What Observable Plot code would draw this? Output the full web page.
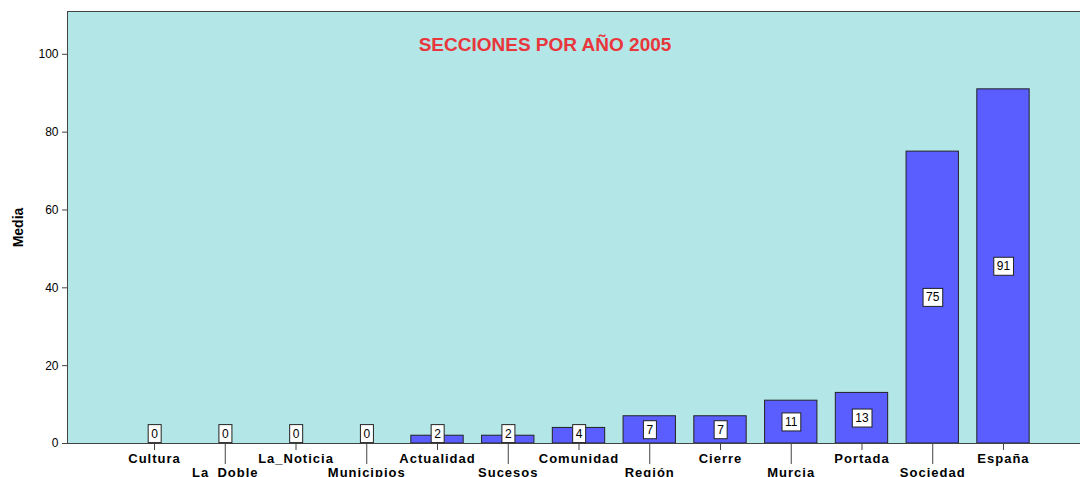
<!DOCTYPE html>
<html>
<head>
<meta charset="utf-8">
<script src="https://cdn.jsdelivr.net/npm/d3@7"></script>
<script src="https://cdn.jsdelivr.net/npm/@observablehq/plot@0.6"></script>
<style>
  html, body { margin: 0; padding: 0; overflow: hidden; background: #fff; }
  #chart { position: relative; width: 1080px; height: 477px; overflow: hidden; }
  #chart svg { max-width: none !important; }
  g[aria-label="x-axis tick label"] text { letter-spacing: 1px; }
</style>
</head>
<body>
<div id="chart"></div>
<script>
const categories = ["Cultura","La_Doble","La_Noticia","Municipios","Actualidad","Sucesos","Comunidad","Región","Cierre","Murcia","Portada","Sociedad","España"];
const values = [0,0,0,0,2,2,4,7,7,11,13,75,91];
const yTicks = [0,20,40,60,80,100];
const title = "SECCIONES POR AÑO 2005";
const yLabel = "Media";

const data = categories.map((c, i) => ({cat: c, v: values[i]}));
const rowA = categories.filter((c, i) => i % 2 === 0);
const rowB = categories.filter((c, i) => i % 2 === 1);

const chart = Plot.plot({
  width: 1090,
  height: 477,
  marginLeft: 67,
  marginRight: 0,
  marginTop: 11,
  marginBottom: 34,
  style: {fontFamily: "'Liberation Sans', Arial, sans-serif", background: "white", color: "#000", maxWidth: "none"},
  x: {domain: categories, paddingInner: 0.26, paddingOuter: 0.86, round: false, axis: null},
  y: {domain: [0, 111], axis: null},
  marks: [
    Plot.frame({fill: "#b3e6e6", stroke: "#444"}),
    Plot.barY(data, {x: "cat", y: "v", fill: "#5a5eff", stroke: "#222", strokeWidth: 1}),
    Plot.axisY(yTicks, {tickSize: 5, tickPadding: 4, fontSize: 12, stroke: "#444", label: null}),
    Plot.axisX(rowA, {tickSize: 7, tickPadding: 3, fontSize: 13, fontWeight: "bold", stroke: "#444", label: null}),
    Plot.axisX(rowB, {tickSize: 21, tickPadding: 3, fontSize: 13, fontWeight: "bold", stroke: "#444", label: null}),
    Plot.ruleY([0], {stroke: "#444"}),
    Plot.text(data, {x: "cat", y: d => Math.max(d.v / 2, 2.5), text: d => String(d.v), fontSize: 12, fill: "#000", className: "vlabel"}),
    Plot.text([title], {frameAnchor: "top", dx: -34, dy: 33, lineAnchor: "middle", fill: "#e8363c", fontSize: 19, fontWeight: "bold"}),
    Plot.text([yLabel], {frameAnchor: "left", textAnchor: "middle", rotate: -90, dx: -49, fontSize: 14, fontWeight: "bold", fill: "#000"})
  ]
});

document.getElementById("chart").appendChild(chart);

// white boxes behind value labels
let labelGroups = chart.querySelectorAll("g.vlabel");
if (!labelGroups.length) labelGroups = [chart.querySelectorAll('g[aria-label="text"]')[0]];
labelGroups.forEach(g => {
  if (!g) return;
  g.querySelectorAll("text").forEach(t => {
    const b = t.getBBox();
    const padX = 3, padY = 2;
    const rect = document.createElementNS("http://www.w3.org/2000/svg", "rect");
    rect.setAttribute("x", b.x - padX);
    rect.setAttribute("y", b.y - padY);
    rect.setAttribute("width", b.width + 2 * padX);
    rect.setAttribute("height", b.height + 2 * padY);
    rect.setAttribute("fill", "#fff");
    rect.setAttribute("stroke", "#222");
    rect.setAttribute("stroke-width", "1");
    const tr = t.getAttribute("transform");
    if (tr) rect.setAttribute("transform", tr);
    t.parentNode.insertBefore(rect, t);
  });
});
</script>
</body>
</html>
